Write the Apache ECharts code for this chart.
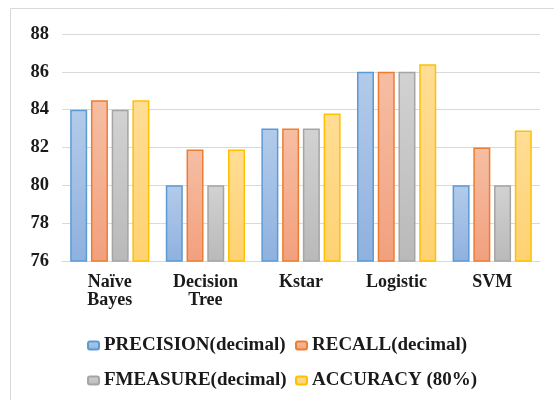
<!DOCTYPE html>
<html>
<head>
<meta charset="utf-8">
<script src="https://cdn.jsdelivr.net/npm/echarts@6/dist/echarts.min.js"></script>
<style>html,body{margin:0;padding:0;background:#fff}#c{width:554px;height:400px}</style>
</head>
<body>
<div id="c"></div>
<script>
const categories = ['Naïve\nBayes', 'Decision\nTree', 'Kstar', 'Logistic', 'SVM'];
const seriesNames = ['PRECISION(decimal)', 'RECALL(decimal)', 'FMEASURE(decimal)', 'ACCURACY (80%)'];
const precision = [84, 80, 83, 86, 80];
const recall = [84.5, 81.9, 83, 86, 82];
const fmeasure = [84, 80, 83, 86, 80];
const accuracy = [84.5, 81.9, 83.8, 86.4, 82.9];
const yTicks = { min: 76, max: 88, interval: 2 };

const values = [precision, recall, fmeasure, accuracy];
const borders = ['#5b9bd5', '#ed7d31', '#a5a5a5', '#ffc000'];
const fills = [['#b3cbea', '#8fb1df'], ['#f6bea4', '#f2a07e'], ['#d2d2d2', '#b9b9b9'], ['#ffdd95', '#ffd272']];
const font = "'Liberation Serif','Times New Roman',serif";

const chart = echarts.init(document.getElementById('c'));
const legendPos = [[82, 331], [290, 331], [82, 366], [290, 366]];
chart.setOption({
  animation: false,
  graphic: [{ type: 'rect', shape: { x: 10.5, y: 8.5, width: 560, height: 420 }, style: { fill: 'none', stroke: '#d9d9d9', lineWidth: 1 } }],
  grid: { left: 62, right: 14, top: 34, bottom: 139 },
  legend: seriesNames.map((n, i) => ({
    data: [n], left: legendPos[i][0], top: legendPos[i][1], itemWidth: 11, itemHeight: 8, itemGap: 3,
    textStyle: { fontFamily: font, fontWeight: 'bold', fontSize: 19, color: '#1a1a1a' }
  })),
  xAxis: {
    type: 'category', data: categories,
    axisLine: { lineStyle: { color: '#d9d9d9' } }, axisTick: { show: false },
    axisLabel: { fontFamily: font, fontWeight: 'bold', fontSize: 18, color: '#1a1a1a', lineHeight: 18, margin: 12 }
  },
  yAxis: {
    type: 'value', min: yTicks.min, max: yTicks.max, interval: yTicks.interval,
    axisLine: { show: false }, axisTick: { show: false },
    splitLine: { lineStyle: { color: '#d9d9d9' } },
    axisLabel: { fontFamily: font, fontWeight: 'bold', fontSize: 18.5, color: '#1a1a1a', margin: 13 }
  },
  series: seriesNames.map((n, i) => ({
    name: n, type: 'bar', data: values[i], barWidth: 17, barGap: '22%',
    itemStyle: {
      color: { type: 'linear', x: 0, y: 0, x2: 0, y2: 1, colorStops: [{ offset: 0, color: fills[i][0] }, { offset: 1, color: fills[i][1] }] },
      borderColor: borders[i], borderWidth: 1.5
    }
  }))
});
</script>
</body>
</html>
